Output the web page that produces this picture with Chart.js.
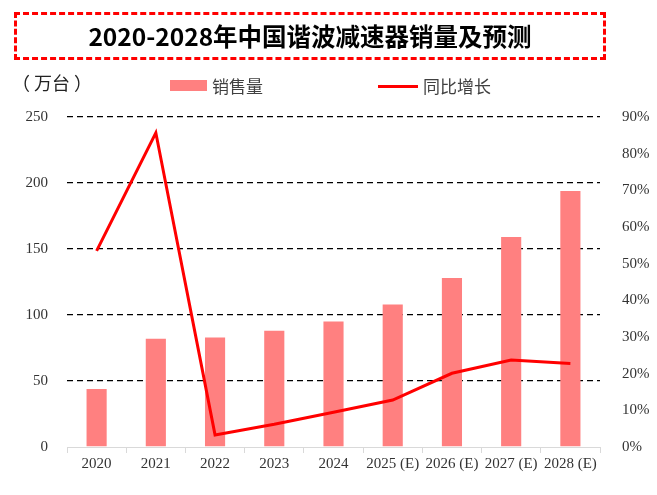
<!DOCTYPE html>
<html>
<head>
<meta charset="utf-8">
<script src="https://cdn.jsdelivr.net/npm/chart.js@4"></script>
<style>
  body { margin: 0; background: #fff; }
  #wrap { position: relative; width: 657px; height: 495px; font-family: "Noto Sans CJK SC", sans-serif; }
  #title-box {
    position: absolute; left: 14px; top: 12px; width: 586px; height: 42px;
    border: 3px dashed #ff0000;
    text-align: center; line-height: 42px;
    font-size: 24.5px; font-weight: bold; color: #000;
  }
  #unit { position: absolute; left: 12px; top: 69px; font-size: 18px; color: #222; }
  .lg { position: absolute; top: 74px; font-size: 17px; color: #404040; line-height: 24px; }
  .sw { position: absolute; }
  canvas { position: absolute; left: 0; top: 0; }
</style>
</head>
<body>
<div id="wrap">
  <canvas id="chart" width="657" height="495"></canvas>
  <div id="title-box">2020-2028年中国谐波减速器销量及预测</div>
  <div id="unit">（ 万台 ）</div>
  <div class="sw" style="left:170px; top:80px; width:37px; height:11px; background:#ff8080;"></div>
  <div class="lg" style="left:212px;">销售量</div>
  <div class="sw" style="left:378px; top:85px; width:40px; height:3px; background:#ff0000;"></div>
  <div class="lg" style="left:423px;">同比增长</div>
</div>
<script>
// 数据
let years = ['2020', '2021', '2022', '2023', '2024', '2025 (E)', '2026 (E)', '2027 (E)', '2028 (E)'];
let sales = [44, 82, 83, 88, 95, 108, 128, 159, 194];      // 万台
let growth = [53.5, 85.7, 3.3, 6.2, 9.5, 12.8, 20.1, 23.7, 22.8]; // %
let leftTicks = [0, 50, 100, 150, 200, 250];

let tickFont = { family: '"Liberation Serif", "DejaVu Serif", serif', size: 15 };

let ctx = document.getElementById('chart').getContext('2d');
let chart = new Chart(ctx, {
    data: {
        labels: years,
        datasets: [{
            type: 'line',
            label: '同比增长',
            data: growth,
            yAxisID: 'y1',
            borderColor: '#ff0000',
            borderWidth: 3,
            pointRadius: 0,
            tension: 0,
            order: 0
        }, {
            type: 'bar',
            label: '销售量',
            data: sales,
            yAxisID: 'y',
            backgroundColor: '#ff8080',
            categoryPercentage: 1,
            barPercentage: 0.34,
            order: 1
        }]
    },
    options: {
        responsive: false,
        animation: false,
        layout: { padding: { top: 117, bottom: 0, left: 0, right: 0 } },
        plugins: {
            legend: { display: false },
            title: { display: false },
            tooltip: { enabled: false }
        },
        scales: {
            x: {
                offset: true,
                grid: { display: true, drawOnChartArea: false, color: '#d9d9d9', tickLength: 6, offset: true },
                border: { color: '#d9d9d9' },
                ticks: { color: '#333', font: tickFont, padding: 2, maxRotation: 0, autoSkip: false },
                afterFit: (s) => { s.height = 48; }
            },
            y: {
                position: 'left',
                min: 0, max: 250,
                afterBuildTicks: (s) => { s.ticks = leftTicks.map(v => ({ value: v })); },
                grid: {
                    drawTicks: false,
                    color: (c) => c.tick.value === 0 ? 'rgba(0,0,0,0)' : '#000',
                    lineWidth: 1.3
                },
                border: { display: false, dash: [6, 4] },
                ticks: { color: '#333', font: tickFont, padding: 19 },
                afterFit: (s) => { s.width = 67; }
            },
            y1: {
                position: 'right',
                min: 0, max: 90,
                grid: { display: false },
                border: { display: false },
                ticks: { stepSize: 10, color: '#333', font: tickFont, padding: 14, callback: (v) => v + '%' },
                afterFit: (s) => { s.width = 57; }
            }
        }
    }
});
</script>
</body>
</html>
